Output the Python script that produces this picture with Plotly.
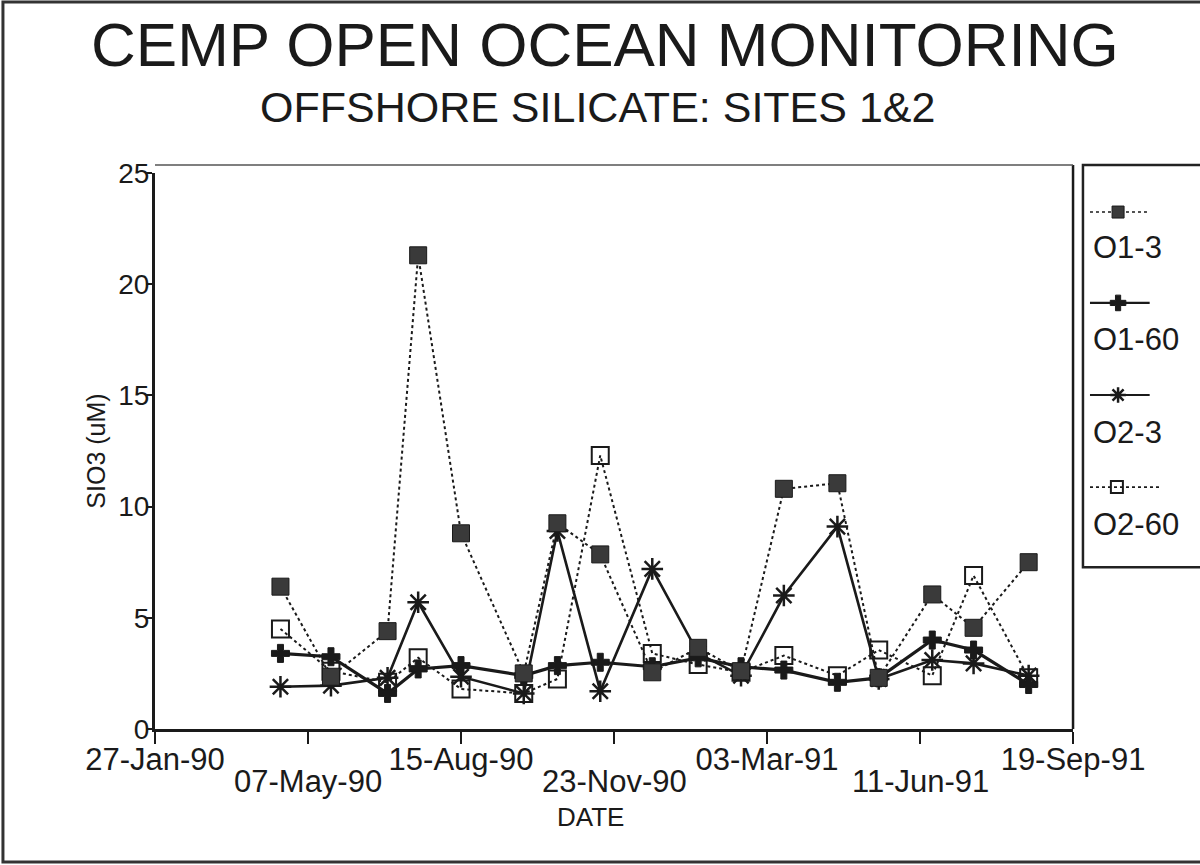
import plotly.graph_objects as go

# Sampling dates (one cruise per month, Apr 1990 - Aug 1991)
dates = [
    "1990-04-19", "1990-05-22", "1990-06-28", "1990-07-18", "1990-08-15",
    "1990-09-25", "1990-10-17", "1990-11-14", "1990-12-18", "1991-01-17",
    "1991-02-14", "1991-03-14", "1991-04-18", "1991-05-15", "1991-06-19",
    "1991-07-16", "1991-08-21",
]

# Silicate concentrations (uM) per station / depth
o1_3 = [6.4, 2.35, 4.4, 21.3, 8.8, 2.5, 9.25, 7.85, 2.55, 3.65, 2.6, 10.8, 11.05, 2.3, 6.05, 4.55, 7.5]
o1_60 = [3.4, 3.25, 1.6, 2.7, 2.85, 2.4, 2.85, 3.0, 2.8, 3.2, 2.8, 2.65, 2.1, 2.3, 4.0, 3.55, 2.0]
o2_3 = [1.9, 1.95, 2.3, 5.7, 2.35, 1.6, 8.9, 1.7, 7.2, 3.4, 2.4, 6.0, 9.1, 2.25, 3.1, 2.95, 2.4]
o2_60 = [4.5, 2.6, 2.1, 3.2, 1.8, 1.6, 2.25, 12.3, 3.4, 2.9, 2.55, 3.3, 2.4, 3.55, 2.4, 6.9, 2.3]

series_names = ["O1-3", "O1-60", "O2-3", "O2-60"]

# Date axis: ticks every 100 days, labels staggered over two rows
tick_dates = ["1990-01-27", "1990-05-07", "1990-08-15", "1990-11-23",
              "1991-03-03", "1991-06-11", "1991-09-19"]
tick_labels = ["27-Jan-90", "07-May-90", "15-Aug-90", "23-Nov-90",
               "03-Mar-91", "11-Jun-91", "19-Sep-91"]
x_range = ["1990-01-27", "1991-09-19"]

y_ticks = [0, 5, 10, 15, 20, 25]

INK = "#1a1a1a"
MARK = "#3a3a3a"
FONT = "Liberation Sans, Arial, Helvetica, sans-serif"

styles = {
    "O1-3": dict(line=dict(color=INK, width=2, dash="dot"),
                 marker=dict(symbol="square", size=17, color=MARK,
                             line=dict(color=INK, width=1))),
    "O1-60": dict(line=dict(color=INK, width=3.2),
                  marker=dict(symbol="cross", size=15, color=INK,
                              line=dict(color=INK, width=1))),
    "O2-3": dict(line=dict(color=INK, width=2.6),
                 marker=dict(symbol="asterisk-open", size=18, color=INK,
                             line=dict(color=INK, width=2.5))),
    "O2-60": dict(line=dict(color=INK, width=2, dash="dot"),
                  marker=dict(symbol="square-open", size=17, color=INK,
                              line=dict(color=INK, width=2))),
}

values = {"O1-3": o1_3, "O1-60": o1_60, "O2-3": o2_3, "O2-60": o2_60}

fig = go.Figure()

# Draw order: open squares underneath, filled series on top
for name in ["O2-60", "O2-3", "O1-60", "O1-3"]:
    st = styles[name]
    fig.add_trace(go.Scatter(
        x=dates, y=values[name], mode="lines+markers", name=name,
        line=st["line"], marker=st["marker"], showlegend=False,
        xaxis="x", yaxis="y",
    ))

# Hand-built legend: sample line with marker above each label
legend_rows = [0.883, 0.657, 0.428, 0.199]
label_rows = [0.794, 0.565, 0.336, 0.107]
sample_x = {"O1-3": [0.06, 0.30, 0.57], "O1-60": [0.06, 0.30, 0.57],
            "O2-3": [0.06, 0.30, 0.57], "O2-60": [0.06, 0.29, 0.66]}
annotations = []
for name, ly, ty in zip(series_names, legend_rows, label_rows):
    st = styles[name]
    mk = dict(st["marker"])
    mk["size"] = 12 if "square" in mk["symbol"] else 13
    fig.add_trace(go.Scatter(
        x=[sample_x[name][0], sample_x[name][2]], y=[ly, ly], mode="lines",
        line=dict(color=INK, width=1.6 if "dash" in st["line"] else 2.2,
                  dash=st["line"].get("dash", "solid")),
        showlegend=False, hoverinfo="skip", xaxis="x2", yaxis="y2",
    ))
    fig.add_trace(go.Scatter(
        x=[sample_x[name][1]], y=[ly], mode="markers", marker=mk,
        showlegend=False, hoverinfo="skip", xaxis="x2", yaxis="y2",
    ))
    annotations.append(dict(
        x=0.07, y=ty, xref="x2", yref="y2", text=name, showarrow=False,
        xanchor="left", yanchor="middle",
        font=dict(family=FONT, size=31, color=INK),
    ))

# Second row of staggered date labels
row2_vals = [d for i, d in enumerate(tick_dates) if i % 2 == 1]
row2_text = [t for i, t in enumerate(tick_labels) if i % 2 == 1]
for d, t in zip(row2_vals, row2_text):
    annotations.append(dict(
        x=d, y=-0.0922, xref="x", yref="paper", text=t, showarrow=False,
        xanchor="center", yanchor="middle",
        font=dict(family=FONT, size=31, color=INK),
    ))

# Titles
annotations += [
    dict(x=0.4306, y=1.2128, xref="paper", yref="paper",
         text="CEMP OPEN OCEAN MONITORING", showarrow=False,
         xanchor="center", yanchor="middle",
         font=dict(family=FONT, size=62, color=INK)),
    dict(x=0.4239, y=1.1028, xref="paper", yref="paper",
         text="OFFSHORE SILICATE: SITES 1&2", showarrow=False,
         xanchor="center", yanchor="middle",
         font=dict(family=FONT, size=43, color=INK)),
    # x-axis title
    dict(x=0.4172, y=-0.1560, xref="paper", yref="paper",
         text="DATE", showarrow=False, xanchor="center", yanchor="middle",
         font=dict(family=FONT, size=26, color=INK)),
]

row1 = [t if i % 2 == 0 else "" for i, t in enumerate(tick_labels)]

PLOT_RIGHT = 0.8785
TOP = 0.9858

fig.update_layout(
    width=1200, height=865,
    margin=dict(l=155, r=0, t=165, b=136, autoexpand=False),
    paper_bgcolor="white", plot_bgcolor="white",
    font=dict(family=FONT, color=INK),
    xaxis=dict(
        domain=[0, PLOT_RIGHT], type="date", range=x_range, automargin=False,
        tickmode="array", tickvals=tick_dates, ticktext=row1,
        ticks="outside", ticklen=12, tickwidth=2, tickcolor=INK,
        ticklabelstandoff=-11,
        showline=True, linewidth=3, linecolor=INK,
        showgrid=False, zeroline=False,
        tickfont=dict(size=31, family=FONT, color=INK),
    ),
    yaxis=dict(
        domain=[0, TOP], range=[0, 25], tickmode="array", tickvals=y_ticks,
        automargin=False,
        ticks="outside", ticklen=6, tickwidth=2, tickcolor=INK,
        ticklabelstandoff=-9,
        showline=True, linewidth=3, linecolor=INK,
        showgrid=False, zeroline=False,
        tickfont=dict(size=28, family=FONT, color=INK),
        title=dict(text="SIO3 (uM)", font=dict(size=25, family=FONT, color=INK),
                   standoff=6),
    ),
    xaxis2=dict(domain=[0.888, 1.0], range=[0, 1], visible=False, anchor="y2",
                automargin=False),
    yaxis2=dict(domain=[0.287, 1.0], range=[0, 1], visible=False, anchor="x2",
                automargin=False),
    annotations=annotations,
    shapes=[
        # page border
        dict(type="rect", xref="paper", yref="paper",
             x0=-0.1455, x1=1.05, y0=-0.2358, y1=1.289,
             line=dict(color="#333", width=3)),
        # legend box
        dict(type="rect", xref="paper", yref="paper",
             x0=0.888, x1=1.05, y0=0.287, y1=1.0,
             line=dict(color="#222", width=2.5)),
        # plot frame: right edge and top
        dict(type="line", xref="paper", yref="paper",
             x0=PLOT_RIGHT, x1=PLOT_RIGHT, y0=0, y1=1.0,
             line=dict(color=INK, width=2.5)),
        dict(type="line", xref="paper", yref="paper",
             x0=0, x1=PLOT_RIGHT, y0=1.0, y1=1.0,
             line=dict(color="#555", width=1.5)),
    ],
)

fig.write_html("out.html")
